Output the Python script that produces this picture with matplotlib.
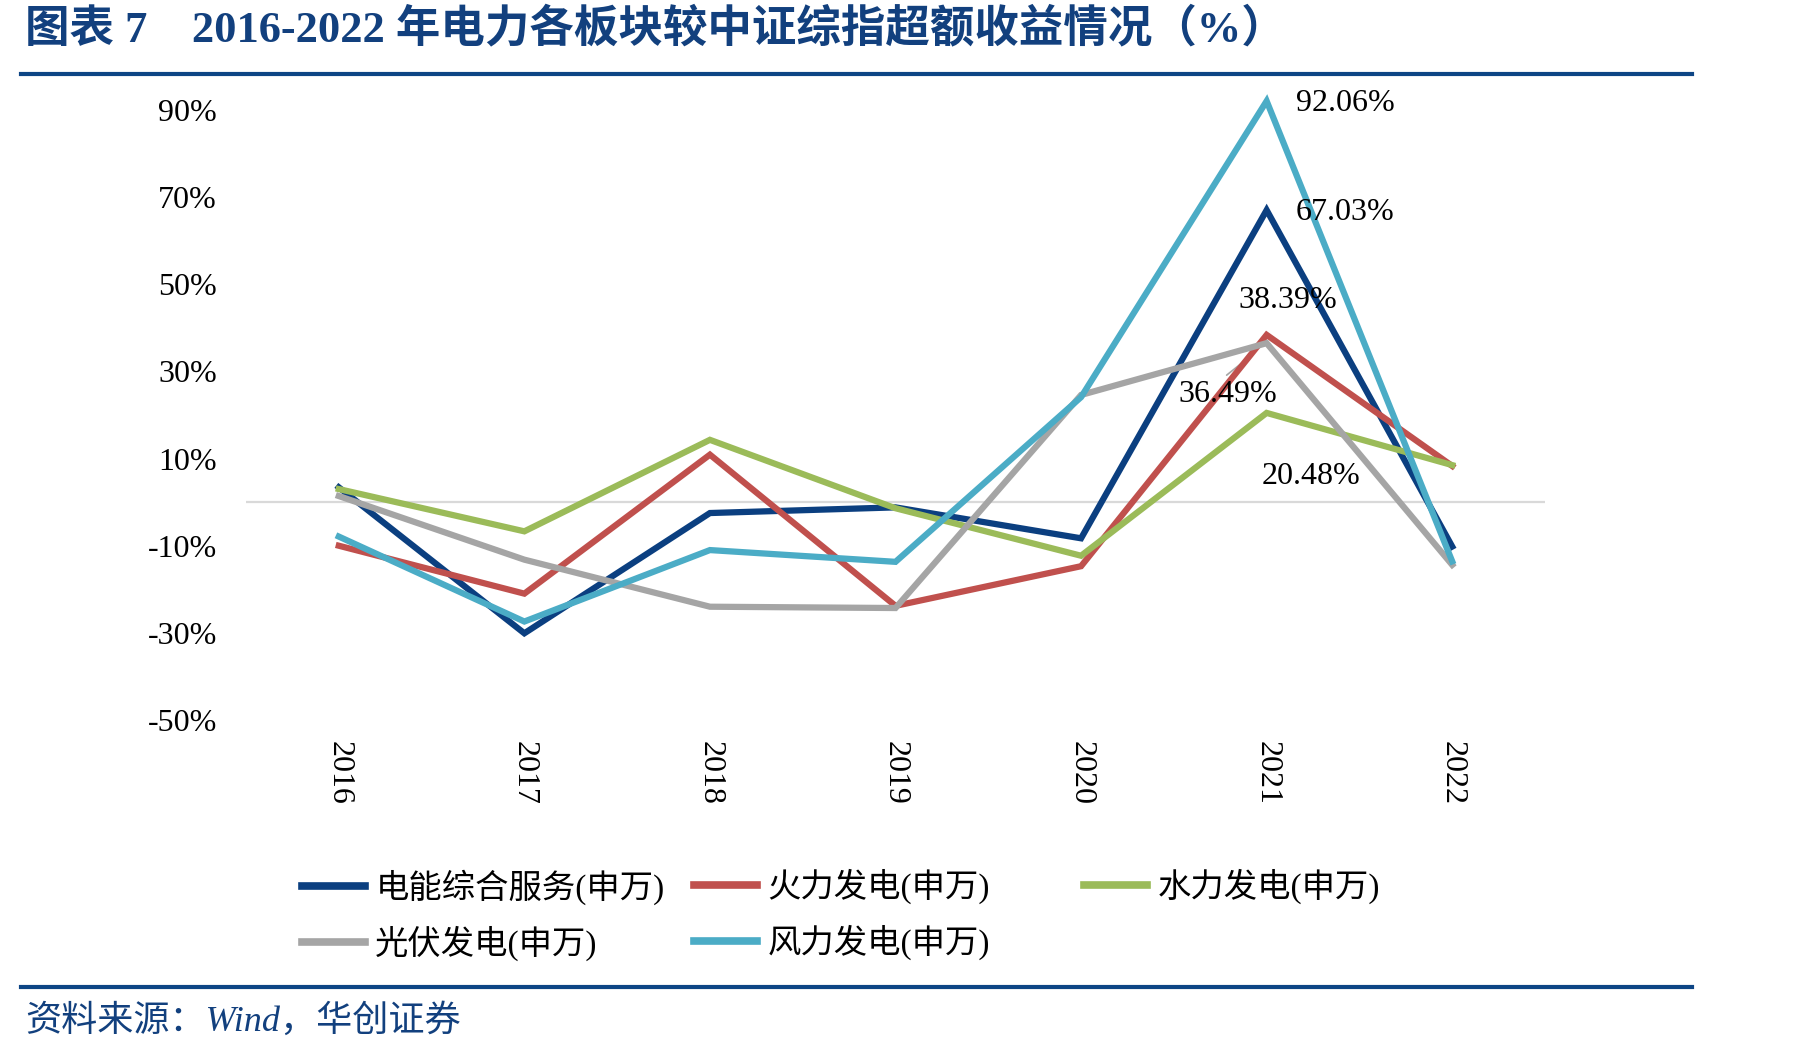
import matplotlib
matplotlib.use("Agg")
import matplotlib.pyplot as plt
from matplotlib.lines import Line2D
import numpy as np

plt.rcParams['font.family'] = ['Liberation Serif', 'Noto Sans CJK SC', 'DejaVu Sans']

years = ['2016', '2017', '2018', '2019', '2020', '2021', '2022']
series_names = ['电能综合服务(申万)', '火力发电(申万)', '水力发电(申万)', '光伏发电(申万)', '风力发电(申万)']
dianneng = [3.4, -30.1, -2.5, -1.2, -8.3, 67.03, -10.2]
huoli = [-10.0, -21.0, 10.9, -23.8, -14.7, 38.39, 8.3]
shuili = [3.0, -6.7, 14.3, -1.4, -12.3, 20.48, 8.5]
guangfu = [1.4, -13.2, -24.0, -24.3, 24.6, 36.49, -14.4]
fengli = [-7.9, -27.4, -11.0, -13.7, 24.1, 92.06, -13.6]
yticks = [-50, -30, -10, 10, 30, 50, 70, 90]

colors = ['#0b3f80', '#c0504d', '#9bbb59', '#a5a5a5', '#4bacc6']
all_series = [dianneng, huoli, shuili, guangfu, fengli]

W, H = 1801, 1055
fig = plt.figure(figsize=(W / 100, H / 100), dpi=100)
ax = fig.add_axes([246 / W, 1 - 720 / H, (1545 - 246) / W, (720 - 110) / H])

x = np.arange(len(years))
ax.axhline(0, color='#d9d9d9', lw=1.6, zorder=1)
order = [3, 2, 1, 0, 4]
for i in order:
    ax.plot(x, all_series[i], color=colors[i], lw=4.5, clip_on=False,
            solid_joinstyle='miter', zorder=3 + i)

ax.set_xlim(-0.5, len(years) - 0.5)
ax.set_ylim(-50, 90)
ax.set_yticks(yticks)
ax.set_yticklabels([f'{v}%' for v in yticks])
ax.set_xticks(x)
ax.set_xticklabels(years, rotation=270, va='top', ha='center')
for s in ax.spines.values():
    s.set_visible(False)
ax.tick_params(axis='y', length=0, pad=21, labelsize=23)
ax.tick_params(axis='x', length=0, pad=15, labelsize=23)

# data labels for 2021
i21 = 5
lab_specs = [
    (fengli[i21], (29, -2)),
    (dianneng[i21], (29, -2)),
    (huoli[i21], (-28, 34)),
    (guangfu[i21], (-88, -51)),
    (shuili[i21], (-5, -64)),
]
for val, off in lab_specs:
    ax.annotate(f'{val:.2f}%', xy=(i21, val), xytext=off, annotation_clip=False,
                textcoords='offset pixels', ha='left', va='center', fontsize=23, zorder=10)

# small leader line for 36.49%
ax.annotate('', xy=(i21, guangfu[i21]), xytext=(-40, -32), textcoords='offset pixels',
            annotation_clip=False,
            arrowprops=dict(arrowstyle='-', color='#a5a5a5', lw=1.2, shrinkA=0, shrinkB=14))

# legends, one per column
leg_kw = dict(frameon=False, fontsize=24, handlelength=1.9, handletextpad=0.3,
              labelspacing=0.62, borderaxespad=0, borderpad=0)
cols = [[0, 3], [1, 4], [2]]
col_x = [302, 694, 1084]
for cx, idxs in zip(col_x, cols):
    hs = [Line2D([0], [0], color=colors[j], lw=5.5) for j in idxs]
    fig.legend(hs, [series_names[j] for j in idxs], loc='upper left',
               bbox_to_anchor=(cx / W, 1 - 869 / H), **leg_kw)

# title
fig.text(25 / W, 1 - 29 / H, '图表 7    2016-2022 年电力各板块较中证综指超额收益情况（%）',
         fontsize=32, fontweight='bold', color='#12407e', va='center', ha='left')

# rules
rule_color = '#0d4585'
for yy in (73.5, 987):
    fig.add_artist(Line2D([21 / W, 1692 / W], [1 - yy / H, 1 - yy / H],
                          transform=fig.transFigure, color=rule_color, lw=3))

# source
fig.text(25 / W, 1 - 1021 / H, '资料来源：Wind，华创证券', fontsize=26, style='italic',
         color='#12407e', va='center', ha='left')

fig.savefig('out.png', dpi=100)
